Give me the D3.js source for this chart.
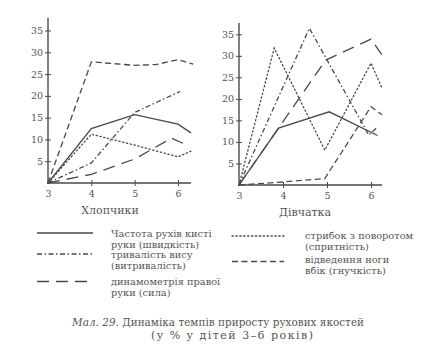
<!DOCTYPE html>
<html>
<head>
<meta charset="utf-8">
<script src="https://cdn.jsdelivr.net/npm/d3@7/dist/d3.min.js"></script>
<style>
  html, body { margin: 0; padding: 0; background: #fff; }
  svg { display: block; }
  svg text { font-family: "DejaVu Serif", "Liberation Serif", serif; fill: #555; }
</style>
</head>
<body>
<svg id="chart" width="445" height="350"></svg>
<script>
// Age ticks and value ticks
const ageTicks = [4, 5, 6];
const valueTicks = [5, 10, 15, 20, 25, 30, 35];

// Boys (Хлопчики): [age, % growth]
const boysSpeed     = [[3, 0], [4, 12.5], [5, 15.7], [6, 13.5], [6.3, 11.5]];
const boysEndurance = [[3, 0], [4, 4.6], [5, 16.2], [6.05, 21]];
const boysStrength  = [[3, 0], [4, 2], [5, 5.5], [5.85, 10.3], [6.25, 8.5]];
const boysAgility   = [[3, 0], [4, 11.2], [5, 8.7], [6, 6], [6.3, 7.3]];
const boysFlex      = [[3, 0], [4, 27.8], [5, 27], [5.5, 27.2], [6, 28.3], [6.35, 27.3]];

// Girls (Дівчатка): [age, % growth]
const girlsSpeed     = [[3, 0], [3.9, 13.2], [5.05, 17], [6.15, 11.5]];
const girlsEndurance = [[3, 0], [4.6, 36.4], [5.95, 11.6], [6.15, 13.5]];
const girlsStrength  = [[3, 0], [4.97, 29], [6, 33.9], [6.25, 30.2]];
const girlsAgility   = [[3, 0], [3.8, 31.8], [4.95, 8.1], [6, 28.3], [6.25, 22.5]];
const girlsFlex      = [[3, 0], [4, 0.7], [4.95, 1.5], [6, 18.2], [6.25, 16.3]];

// Legend entries
const legendLabels = [
  ["Частота рухів кисті", "руки (швидкість)"],
  ["тривалість вису", "(витривалість)"],
  ["динамометрія правої", "руки (сила)"],
  ["стрибок з поворотом", "(спритність)"],
  ["відведення ноги", "вбік (гнучкість)"]
];

const styles = {
  speed:     null,
  endurance: "5,2.5,1.5,2.5",
  strength:  "12,7",
  agility:   "1.3,2.6",
  flex:      "6,3.5"
};

const svg = d3.select("#chart");
const ink = "#4a4a4a";
const serif = "DejaVu Serif, Liberation Serif, serif";

function panel(opts) {
  const x = d3.scaleLinear().domain([3, opts.xMax]).range([opts.x0, opts.x1]);
  const y = d3.scaleLinear().domain([0, 35]).range([opts.y0, opts.y35]);
  const g = svg.append("g");

  // y axis
  const ya = g.append("g").attr("transform", `translate(${opts.x0},0)`)
    .call(d3.axisLeft(y).tickValues(valueTicks).tickSize(3).tickPadding(2));
  ya.attr("font-family", serif);
  ya.select(".domain").remove();
  ya.selectAll(".tick line").attr("x1", -3).attr("x2", 3).attr("stroke", ink);
  ya.selectAll(".tick text").attr("font-size", 9.5).attr("fill", "#555");
  g.append("line").attr("x1", opts.x0).attr("x2", opts.x0)
    .attr("y1", opts.y0 + 1).attr("y2", opts.yTop)
    .attr("stroke", ink).attr("stroke-width", 1.4);

  // x axis
  const xa = g.append("g").attr("transform", `translate(0,${opts.y0})`)
    .call(d3.axisBottom(x).tickValues([3].concat(ageTicks)).tickFormat(d3.format("d")).tickSize(3).tickPadding(4));
  xa.attr("font-family", serif);
  xa.select(".domain").remove();
  xa.selectAll(".tick line").attr("y1", -3).attr("y2", 3).attr("stroke", ink)
    .filter(d => d === 3).remove();
  xa.selectAll(".tick text").attr("font-size", 9.5).attr("fill", "#555");
  g.append("line").attr("x1", opts.x0 - 1).attr("x2", opts.x1)
    .attr("y1", opts.y0).attr("y2", opts.y0)
    .attr("stroke", ink).attr("stroke-width", 1.4);

  const line = d3.line().x(d => x(d[0])).y(d => y(d[1]));
  opts.series.forEach(([data, key]) => {
    g.append("path").datum(data).attr("d", line)
      .attr("fill", "none").attr("stroke", ink).attr("stroke-width", 1.3)
      .attr("stroke-linecap", key === "agility" ? "round" : "butt")
      .attr("stroke-dasharray", styles[key]);
  });

  g.append("text").attr("x", opts.titleX).attr("y", opts.titleY)
    .attr("text-anchor", "middle").attr("font-size", 11).text(opts.title);
}

panel({
  x0: 48, x1: 191, xMax: 6.3, y0: 183, y35: 30.5, yTop: 18,
  title: "Хлопчики", titleX: 110, titleY: 214,
  series: [[boysSpeed, "speed"], [boysEndurance, "endurance"], [boysStrength, "strength"],
           [boysAgility, "agility"], [boysFlex, "flex"]]
});

panel({
  x0: 239, x1: 382, xMax: 6.25, y0: 185, y35: 34.3, yTop: 23,
  title: "Дівчатка", titleX: 305, titleY: 216,
  series: [[girlsSpeed, "speed"], [girlsEndurance, "endurance"], [girlsStrength, "strength"],
           [girlsAgility, "agility"], [girlsFlex, "flex"]]
});

// Legend
const legendPos = [
  { key: "speed",     lx: 37,  lw: 56, ly: 233,   tx: 111, ty: 236.5 },
  { key: "endurance", lx: 37,  lw: 56, ly: 254,   tx: 111, ty: 257.5 },
  { key: "strength",  lx: 37,  lw: 56, ly: 281.5, tx: 111, ty: 284.5 },
  { key: "agility",   lx: 232, lw: 52, ly: 236,   tx: 305, ty: 238.5 },
  { key: "flex",      lx: 232, lw: 52, ly: 261.5, tx: 305, ty: 262.5 }
];
const lg = svg.append("g");
legendPos.forEach((p, i) => {
  lg.append("line").attr("x1", p.lx).attr("x2", p.lx + p.lw)
    .attr("y1", p.ly).attr("y2", p.ly)
    .attr("stroke", ink).attr("stroke-width", 1.3)
    .attr("stroke-linecap", p.key === "agility" ? "round" : "butt")
    .attr("stroke-dasharray", styles[p.key]);
  const t = lg.append("text").attr("x", p.tx).attr("y", p.ty).attr("font-size", 9.8);
  t.append("tspan").attr("x", p.tx).text(legendLabels[i][0]);
  t.append("tspan").attr("x", p.tx).attr("dy", 11.2).text(legendLabels[i][1]);
});

// Caption
const cap = svg.append("text").attr("x", 72).attr("y", 326)
  .attr("font-size", 10.4).attr("fill", "#444")
  .attr("textLength", 292).attr("lengthAdjust", "spacing");
cap.append("tspan").attr("font-style", "italic").text("Мал. 29. ");
cap.append("tspan").text("Динаміка темпів приросту рухових якостей");
svg.append("text").attr("x", 151).attr("y", 339)
  .attr("font-size", 11).attr("fill", "#444")
  .attr("textLength", 162).attr("lengthAdjust", "spacing")
  .text("(у % у дітей 3–6 років)");
</script>
</body>
</html>
